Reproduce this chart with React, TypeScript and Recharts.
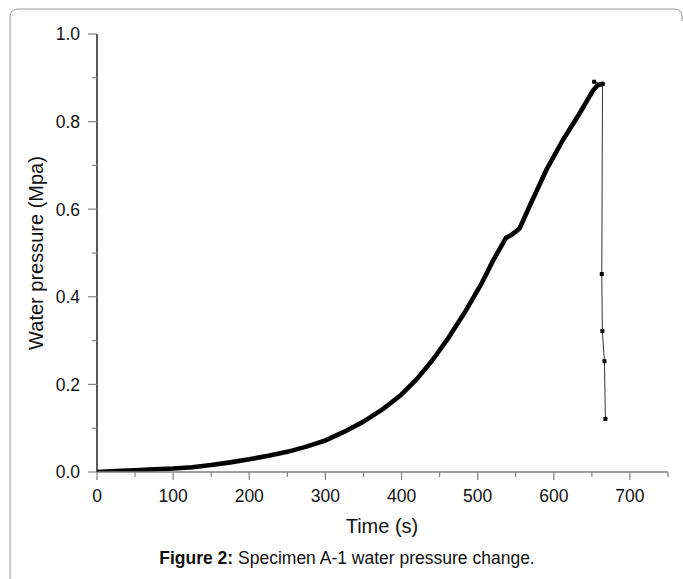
import React from "react";
import { LineChart, Line, XAxis, YAxis } from "recharts";

// Main (thick) curve: time (s) and water pressure (MPa)
const mainTime = [0, 25, 50, 75, 100, 125, 150, 175, 200, 225, 250, 275, 300, 325, 350, 375, 400, 420, 440, 460, 485, 505, 520, 537, 545, 555, 568, 590, 612, 634, 645, 652, 657, 661, 664];
const mainPressure = [0.0, 0.002, 0.004, 0.006, 0.008, 0.011, 0.016, 0.022, 0.029, 0.037, 0.046, 0.058, 0.072, 0.092, 0.115, 0.143, 0.177, 0.212, 0.254, 0.302, 0.37, 0.43, 0.482, 0.534, 0.542, 0.556, 0.606, 0.689, 0.758, 0.819, 0.852, 0.872, 0.882, 0.885, 0.886];

// Failure drop (thin line with square markers)
const dropTime = [653, 664, 663, 663.8, 666.5, 667.8];
const dropPressure = [0.891, 0.886, 0.452, 0.322, 0.253, 0.121];

const xTicks = [0, 50, 100, 150, 200, 250, 300, 350, 400, 450, 500, 550, 600, 650, 700, 750];
const yTicks = [0, 0.1, 0.2, 0.3, 0.4, 0.5, 0.6, 0.7, 0.8, 0.9, 1.0];

const mainData = mainTime.map((t, i) => ({ t, p: mainPressure[i] }));
const dropData = dropTime.map((t, i) => ({ t, p: dropPressure[i] }));

const FONT = "'Liberation Sans', Arial, Helvetica, sans-serif";

const XTick = (props: any) => {
  const { x, y, payload } = props;
  const v = payload.value;
  const major = v % 100 === 0 && v <= 700;
  return (
    <g>
      <line x1={x} x2={x} y1={y} y2={y + (major ? 8 : 5)} stroke="#808080" strokeWidth={1.2} />
      {major && (
        <text x={x} y={y + 30} textAnchor="middle" fontFamily={FONT} fontSize={17.5} fill="#111">
          {v}
        </text>
      )}
    </g>
  );
};

const YTick = (props: any) => {
  const { x, y, payload } = props;
  const v = payload.value;
  const major = Math.round(v * 10) % 2 === 0;
  return (
    <g>
      <line x1={x - (major ? 9 : 5)} x2={x} y1={y} y2={y} stroke="#808080" strokeWidth={1.2} />
      {major && (
        <text x={x - 17} y={y} dy="0.36em" textAnchor="end" fontFamily={FONT} fontSize={17.5} fill="#111">
          {v.toFixed(1)}
        </text>
      )}
    </g>
  );
};

const SquareDot = (props: any) => {
  const { cx, cy } = props;
  if (cx == null || cy == null) return null;
  return <rect x={cx - 2} y={cy - 2} width={4} height={4} fill="#000" />;
};

export default function App() {
  return (
    <div style={{ position: "absolute", left: 0, top: 0, width: 683, height: 579, background: "#fff" }}>
      <LineChart
        width={683}
        height={579}
        margin={{ top: 34, right: 15, left: 0, bottom: 77 }}
      >
        <path
          d="M10,579 L10,17 Q10,9 18,9 L674,9 Q682,9 682,17 L682,21"
          fill="none"
          stroke="#9a9a9a"
          strokeWidth={1}
        />
        <XAxis
          type="number"
          dataKey="t"
          domain={[0, 750]}
          ticks={xTicks}
          interval={0}
          allowDataOverflow
          height={30}
          axisLine={{ stroke: "#808080", strokeWidth: 1.5 }}
          tickLine={false}
          tickSize={0}
          tickMargin={0}
          tick={<XTick />}
        />
        <YAxis
          type="number"
          dataKey="p"
          domain={[0, 1]}
          ticks={yTicks}
          interval={0}
          allowDataOverflow
          width={97}
          axisLine={{ stroke: "#000", strokeWidth: 1.3 }}
          tickLine={false}
          tickSize={0}
          tickMargin={0}
          tick={<YTick />}
        />
        <Line
          data={mainData}
          dataKey="p"
          type="linear"
          stroke="#000"
          strokeWidth={4.6}
          strokeLinejoin="round"
          strokeLinecap="round"
          dot={false}
          isAnimationActive={false}
        />
        <Line
          data={dropData}
          dataKey="p"
          type="linear"
          stroke="#333"
          strokeWidth={1}
          dot={<SquareDot />}
          isAnimationActive={false}
        />
        <text x={382} y={533} textAnchor="middle" fontFamily={FONT} fontSize={20} fill="#111">
          Time (s)
        </text>
        <text
          x={43}
          y={253}
          transform="rotate(-90 43 253)"
          textAnchor="middle"
          fontFamily={FONT}
          fontSize={20}
          fill="#111"
        >
          Water pressure (Mpa)
        </text>
        <text x={347} y={564} textAnchor="middle" fontFamily={FONT} fontSize={17.5} fill="#111">
          <tspan fontWeight="bold">Figure 2:</tspan>
          <tspan> Specimen A-1 water pressure change.</tspan>
        </text>
      </LineChart>
    </div>
  );
}
